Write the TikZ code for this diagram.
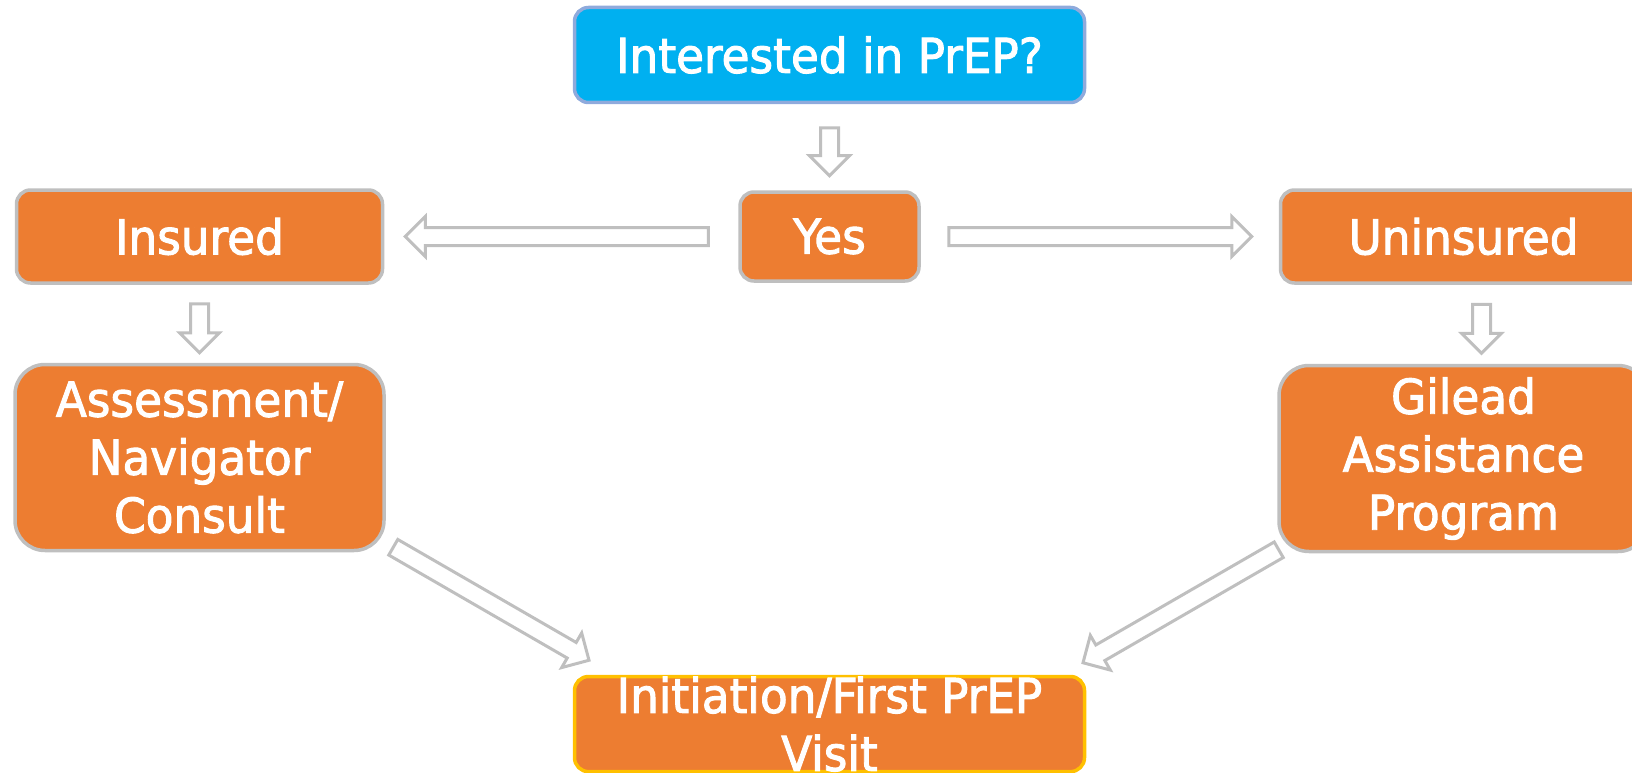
\documentclass[tikz,border=0pt]{standalone}
\usepackage{fontspec}
\newfontfamily\boxfont{DejaVu Sans Condensed}[FakeBold=2, FakeStretch=1.05]
\usetikzlibrary{positioning,calc,shapes.arrows}

\definecolor{prepOrange}{HTML}{ED7D31}
\definecolor{prepBlue}{HTML}{00B0F0}
\definecolor{prepLilac}{HTML}{8FAADC}
\definecolor{prepGold}{HTML}{FFC000}
\definecolor{prepGray}{HTML}{BFBFBF}

\tikzset{
  box/.style={rectangle, rounded corners=14pt, draw=prepGray, fill=prepOrange,
    line width=3.5pt, text=white, align=center, inner sep=0pt,
    font=\boxfont\fontsize{48}{58}\selectfont},
  tallbox/.style={box, rounded corners=30pt, minimum width=369pt, minimum height=186pt},
  blockarrow/.style={single arrow, draw=prepGray, fill=white, line width=3pt,
    inner xsep=0pt, inner ysep=7.5pt, single arrow head extend=11pt}
}

\begin{document}
\begin{tikzpicture}[x=1pt,y=1pt,node distance=80pt]
    \useasboundingbox (0,0) rectangle (1632,-773);
    \node[box, fill=prepBlue, draw=prepLilac, minimum width=510pt, minimum height=95pt] (top) at (829.5,-55) {Interested in PrEP?};
    \node[box, minimum width=179pt, minimum height=89pt] (yes) [below=86pt of top] {Yes};
    \node[box, minimum width=366pt, minimum height=93pt] (insured) [left=354pt of yes] {Insured};
    \node[box, minimum width=366pt, minimum height=93pt] (uninsured) [right=358pt of yes] {Uninsured};
    \node[tallbox] (assess) [below=78pt of insured] {Assessment/\\Navigator\\Consult};
    \node[tallbox] (gilead) [below=79pt of uninsured] {Gilead\\Assistance\\Program};
    \node[box, draw=prepGold, minimum width=510pt, minimum height=95pt] (visit) [below=392pt of yes] {Initiation/First PrEP\\Visit};

    \node[blockarrow, rotate=-90, minimum height=48pt] (a1) at ($(top.south)!0.5!(yes.north)$) {};
    \node[blockarrow, rotate=180, minimum height=303pt] (a2) at ($(yes.west)!0.5!(insured.east)$) {};
    \node[blockarrow, minimum height=303pt] (a3) at ($(yes.east)!0.5!(uninsured.west)+(-4,0)$) {};
    \node[blockarrow, rotate=-90, minimum height=49pt] (a4) at ($(insured.south)!0.5!(assess.north)$) {};
    \node[blockarrow, rotate=-90, minimum height=49pt] (a5) at ($(uninsured.south)!0.5!(gilead.north)+(18,0)$) {};
    \node[blockarrow, rotate=-30, minimum height=226pt] (a6) at ($(assess.south east)!0.5!(visit.north west)+(8,12)$) {};
    \node[blockarrow, rotate=210, minimum height=226pt] (a7) at ($(gilead.south west)!0.5!(visit.north east)+(3,10)$) {};
\end{tikzpicture}
\end{document}
